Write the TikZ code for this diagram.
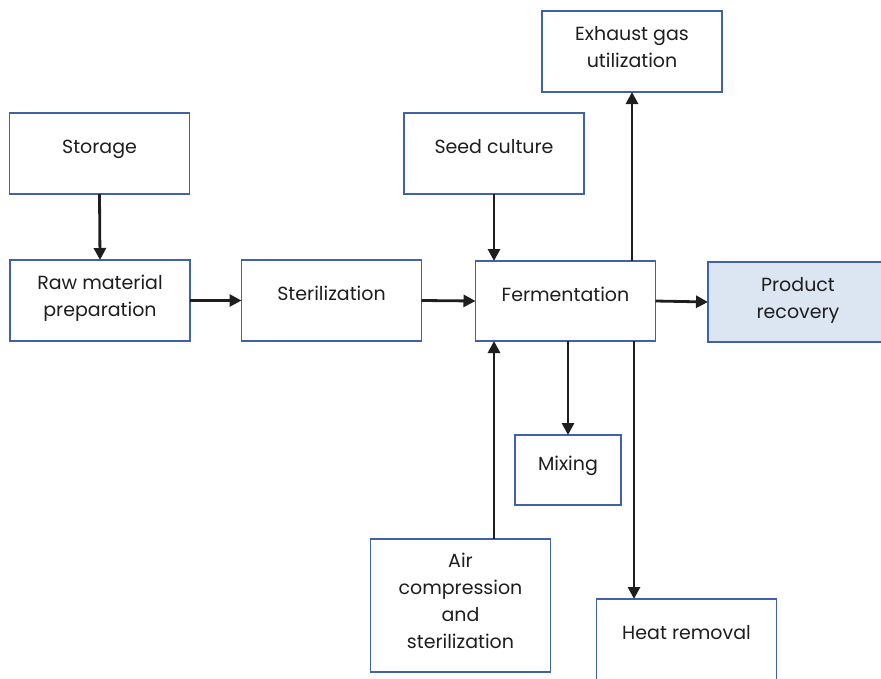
\documentclass[tikz,border=0pt]{standalone}
\usepackage{fontspec}
\setmainfont{Poppins}
\usetikzlibrary{arrows.meta}
\definecolor{boxblue}{HTML}{3F62A8}
\definecolor{boxfill}{HTML}{DCE6F2}
\definecolor{ink}{HTML}{1E1E1E}
\begin{document}
\begin{tikzpicture}[x=1pt,y=-1pt,
  box/.style={draw=boxblue,line width=1.6pt,fill=white,inner sep=0pt,outer sep=0pt,
    align=center,text=ink,font=\fontsize{19}{27}\selectfont,
    minimum width=180pt,minimum height=81pt},
  oneline/.style={text height=10pt,text depth=10pt},
  multi/.style={text depth=9pt},
  arr/.style={draw=ink,line width=2.8pt,-{Triangle[length=12pt,width=12pt]}}]
\useasboundingbox (0,0) rectangle (881,678);
\clip (0,0) rectangle (881,678);

% process boxes
\node[box,oneline] (st) at (99.5,153.5) {Storage};
\node[box,multi] (raw) at (100,300.5) {Raw material\\preparation};
\node[box,oneline] (ster) at (331.5,300.5) {Sterilization};
\node[box,oneline] (seed) at (494,153.5) {Seed culture};
\node[box,oneline,minimum height=80pt] (ferm) at (565.5,301) {Fermentation};
\node[box,multi] (exh) at (632,51.5) {Exhaust gas\\utilization};
\node[box,multi,fill=boxfill,minimum height=80pt] (prod) at (798,302) {Product\\recovery};
\node[box,oneline,minimum width=106pt,minimum height=70pt] (mix) at (568,470) {Mixing};
\node[box,multi,minimum height=133pt] (air) at (460.5,605.5) {Air\\compression\\and\\sterilization};
\node[box,oneline] (heat) at (686.5,639.5) {Heat removal};

% material and utility flows
\draw[arr] (st.south) -- (raw.north);
\draw[arr] (raw.east) -- (ster.west);
\draw[arr] (ster.east) -- (ferm.west);
\draw[arr] (seed.south) -- (seed.south |- ferm.north);
\draw[arr] (exh.south |- ferm.north) -- (exh.south);
\draw[arr] (ferm.east) -- (prod.west);
\draw[arr] (mix.north |- ferm.south) -- (mix.north);
\draw[arr] ([xshift=68.5pt]ferm.south) -- ([xshift=68.5pt]ferm.south |- heat.north);
\draw[arr] (air.north -| seed.south) -- (ferm.south -| seed.south);
\end{tikzpicture}
\end{document}
